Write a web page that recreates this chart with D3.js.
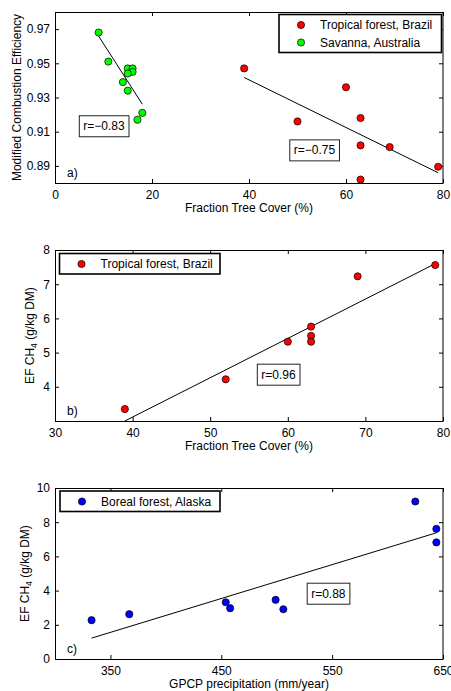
<!DOCTYPE html>
<html>
<head>
<meta charset="utf-8">
<script src="https://cdn.jsdelivr.net/npm/d3@7"></script>
<style>
  body { margin: 0; background: #fff; }
  text { font-family: "Liberation Sans", Arial, sans-serif; fill: #000; }
</style>
</head>
<body>
<script>
// panel a) MCE vs tree cover
const savannaTreeCover = [9, 11, 15, 16, 16, 15, 14, 15, 18, 17];
const savannaMCE = [0.968, 0.951, 0.947, 0.947, 0.945, 0.944, 0.939, 0.934, 0.921, 0.917];
const brazilTreeCover = [39, 60, 50, 63, 63, 69, 79, 63];
const brazilMCE = [0.947, 0.936, 0.916, 0.918, 0.902, 0.901, 0.8895, 0.882];
const savannaFitX = [9, 18], savannaFitY = [0.9659, 0.9261];
const brazilFitX = [39, 79], brazilFitY = [0.9417, 0.886];
const mceTicks = [0.89, 0.91, 0.93, 0.95, 0.97];
const coverTicksA = [0, 20, 40, 60, 80];

// panel b) EF CH4 vs tree cover
const brazilCover2 = [39, 52, 60, 63, 63, 63, 69, 79];
const brazilCH4 = [3.35, 4.22, 5.32, 5.76, 5.49, 5.32, 7.23, 7.56];
const brazilCH4FitX = [39, 79], brazilCH4FitY = [3.0, 7.6];
const ch4TicksB = [4, 5, 6, 7, 8];
const coverTicksB = [30, 40, 50, 60, 70, 80];

// panel c) EF CH4 vs precipitation
const alaskaPrecip = [333, 367, 454, 458, 499, 506, 625, 644, 644];
const alaskaCH4 = [2.27, 2.62, 3.32, 2.97, 3.46, 2.91, 9.21, 7.61, 6.82];
const alaskaFitX = [333, 644], alaskaFitY = [1.22, 7.38];
const ch4TicksC = [0, 2, 4, 6, 8, 10];
const precipTicks = [350, 450, 550, 650];

const W = 451, H = 691;
const svg = d3.select("body").append("svg").attr("width", W).attr("height", H);

const zip = (xs, ys) => xs.map((x, i) => [x, ys[i]]);

function drawPanel(p) {
  const x = d3.scaleLinear().domain(p.xDomain).range([55, 443]);
  const y = d3.scaleLinear().domain(p.yDomain).range([p.top + 171, p.top]);
  const g = svg.append("g");
  const bottom = p.top + 171;

  // axes, MATLAB style ticks pointing in on all sides
  g.append("g").attr("transform", `translate(0,${bottom})`)
    .call(d3.axisBottom(x).tickValues(p.xTicks).tickSize(-4).tickPadding(7).tickSizeOuter(0).tickFormat(d3.format("d")));
  g.append("g").attr("transform", `translate(0,${p.top})`)
    .call(d3.axisTop(x).tickValues(p.xTicks).tickSize(-4).tickSizeOuter(0).tickFormat(""));
  g.append("g").attr("transform", "translate(55,0)")
    .call(d3.axisLeft(y).tickValues(p.yTicks).tickSize(-4).tickPadding(5).tickSizeOuter(0).tickFormat(p.yFormat));
  g.append("g").attr("transform", "translate(443,0)")
    .call(d3.axisRight(y).tickValues(p.yTicks).tickSize(-4).tickSizeOuter(0).tickFormat(""));
  g.selectAll(".domain").remove();
  g.selectAll(".tick line").attr("stroke", "#000");
  g.selectAll(".tick text").attr("font-size", 12).attr("fill", "#000")
    .style("font-family", "'Liberation Sans', Arial, sans-serif");
  g.append("rect").attr("x", 55.5).attr("y", p.top + 0.5).attr("width", 387.5).attr("height", 171)
    .attr("fill", "none").attr("stroke", "#000").attr("stroke-width", 1);

  // fit lines
  const line = d3.line().x(d => x(d[0])).y(d => y(d[1]));
  p.fits.forEach(f => {
    g.append("path").attr("d", line(f)).attr("fill", "none").attr("stroke", "#000").attr("stroke-width", 1);
  });

  // points
  p.series.forEach(s => {
    g.selectAll(null).data(s.pts).enter().append("circle")
      .attr("cx", d => x(d[0])).attr("cy", d => y(d[1])).attr("r", 3.6)
      .attr("fill", s.color).attr("stroke", "#000").attr("stroke-width", 0.7);
  });

  // r= boxes
  p.notes.forEach(n => {
    const box = g.append("rect");
    const t = g.append("text").attr("x", x(n.x)).attr("y", y(n.y)).attr("dy", "0.35em")
      .attr("text-anchor", "middle").attr("font-size", 12).text(n.text);
    const b = t.node().getBBox();
    box.attr("x", b.x - 4).attr("y", b.y - 3.5)
      .attr("width", b.width + 8).attr("height", b.height + 7)
      .attr("fill", "#fff").attr("stroke", "#222").attr("stroke-width", 1);
  });

  // legend
  const lg = p.legend;
  g.append("rect").attr("x", lg.x).attr("y", lg.y).attr("width", lg.w).attr("height", lg.h)
    .attr("fill", "#fff").attr("stroke", "#000").attr("stroke-width", 1.6);
  p.series.forEach((s, i) => {
    const cy = lg.y + lg.first + i * 17.5;
    g.append("circle").attr("cx", lg.x + 22).attr("cy", cy).attr("r", 3.6)
      .attr("fill", s.color).attr("stroke", "#000").attr("stroke-width", 0.7);
    g.append("text").attr("x", lg.x + 41).attr("y", cy).attr("dy", "0.36em")
      .attr("font-size", 12).text(s.name);
  });

  // panel letter
  g.append("text").attr("x", 67).attr("y", bottom - 6).attr("font-size", 12).text(p.letter);

  // axis titles
  g.append("text").attr("x", 249).attr("y", bottom + 29).attr("text-anchor", "middle")
    .attr("font-size", 12).text(p.xLabel);
  const yl = g.append("text").attr("transform", `translate(${p.yLabelX},${p.top + 85.5}) rotate(-90)`)
    .attr("text-anchor", "middle").attr("font-size", 12);
  if (p.sub) {
    yl.append("tspan").text("EF CH");
    yl.append("tspan").attr("font-size", 8.5).attr("dy", 3).text("4");
    yl.append("tspan").attr("dy", -3).text(" (g/kg DM)");
  } else {
    yl.text(p.yLabel);
  }
}

drawPanel({
  top: 12, xDomain: [0, 80], yDomain: [0.88, 0.98],
  xTicks: coverTicksA, yTicks: mceTicks, yFormat: d3.format(".2f"),
  series: [
    { name: "Tropical forest, Brazil", color: "#ff0000", pts: zip(brazilTreeCover, brazilMCE) },
    { name: "Savanna, Australia", color: "#00ff00", pts: zip(savannaTreeCover, savannaMCE) }
  ],
  fits: [zip(savannaFitX, savannaFitY), zip(brazilFitX, brazilFitY)],
  notes: [{ x: 10.1, y: 0.9133, text: "r=\u22120.83" }, { x: 53.5, y: 0.8992, text: "r=\u22120.75" }],
  legend: { x: 279, y: 14.5, w: 162.5, h: 38, first: 10.5 },
  letter: "a)", xLabel: "Fraction Tree Cover (%)",
  yLabel: "Modified Combustion Efficiency", yLabelX: 21
});

drawPanel({
  top: 250, xDomain: [30, 80], yDomain: [3, 8],
  xTicks: coverTicksB, yTicks: ch4TicksB, yFormat: d3.format("d"),
  series: [{ name: "Tropical forest, Brazil", color: "#ff0000", pts: zip(brazilCover2, brazilCH4) }],
  fits: [zip(brazilCH4FitX, brazilCH4FitY)],
  notes: [{ x: 58.8, y: 4.36, text: "r=0.96" }],
  legend: { x: 59.5, y: 253.5, w: 160.5, h: 20.5, first: 10.5 },
  letter: "b)", xLabel: "Fraction Tree Cover (%)", sub: true, yLabelX: 34
});

drawPanel({
  top: 488, xDomain: [300, 650], yDomain: [0, 10],
  xTicks: precipTicks, yTicks: ch4TicksC, yFormat: d3.format("d"),
  series: [{ name: "Boreal forest, Alaska", color: "#0000ff", pts: zip(alaskaPrecip, alaskaCH4) }],
  fits: [zip(alaskaFitX, alaskaFitY)],
  notes: [{ x: 546.6, y: 3.83, text: "r=0.88" }],
  legend: { x: 60, y: 491, w: 160, h: 20.5, first: 10.5 },
  letter: "c)", xLabel: "GPCP precipitation (mm/year)", sub: true, yLabelX: 28.5
});
</script>
</body>
</html>
